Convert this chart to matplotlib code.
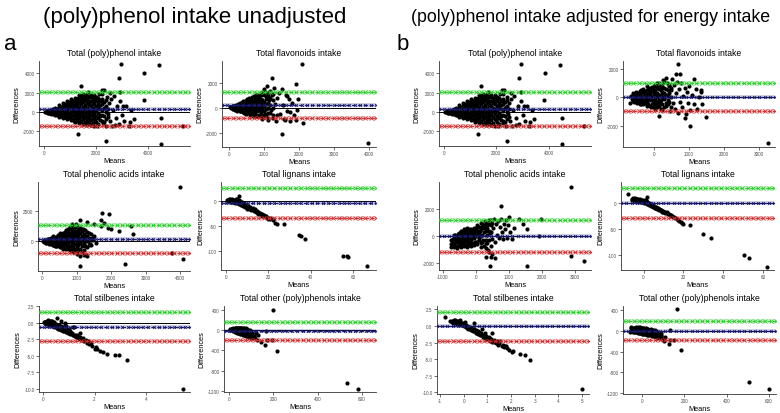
import numpy as np
import matplotlib
matplotlib.use("Agg")
import matplotlib.pyplot as plt

plt.rcParams['font.family'] = ['Liberation Sans', 'DejaVu Sans']
plt.rcParams['axes.unicode_minus'] = False

# ---- data: (mean, difference) pairs ----
# sparse/edge points and outliers
total_pts = [
    [60, 20], [100, -40], [140, 60], [180, -80], [220, 100], [260, -60], [300, 150], [340, -150], [380, 80],
    [420, -220], [460, 250], [500, -100], [540, 300], [580, -300], [620, 120], [660, -250], [700, 400],
    [740, -50], [780, 500], [820, -400], [860, 200], [900, -600], [940, 700], [980, -150], [1020, 900],
    [1060, -700], [1100, 350], [1140, 1100], [1180, -900], [1220, 600], [1260, -300], [1300, 1400],
    [1340, -1000], [1380, 900], [1420, 100], [1460, 1700], [1500, -600], [1540, 1200], [1580, -1200],
    [1620, 400], [1660, 1900], [1700, -900], [1740, 800], [1780, -300], [1820, 1600], [1860, -1300],
    [1900, 1100], [1940, 200], [1980, -800], [2020, 1400], [2060, -1500], [2100, 700], [2140, 1900],
    [2180, -400], [2220, 1100], [2260, -1100], [2300, 2300], [2340, 400], [2380, -1400], [2420, 1600],
    [2460, -200], [2500, 900], [2540, -900], [2580, 1300], [2620, -1500], [2660, 200], [2700, 1700],
    [2760, -600], [2820, 600], [2880, -1200], [2950, 1100], [3020, -300], [3100, -900], [3180, 600],
    [3260, -1400], [3350, 200], [3450, -700],
    [1435, 2725], [2235, 2310], [2550, 1970], [2930, 2100], [2960, 4970], [4420, 4900], [3860, 4040],
    [2880, 3520], [3835, 1240], [3060, 590], [4510, -620], [5350, -1415], [4510, -3310], [2400, -3035],
    [1320, -2310], [3300, -1000], [2750, -1300], [1350, 1800], [1700, 2100],
]
# dense core: mean -> list of differences
total_core = {
    150: [-100, 150], 300: [-250, 0, 250], 450: [-350, -100, 150, 400],
    600: [-500, -200, 100, 400, 700], 750: [-600, -250, 50, 350, 650, 950],
    900: [-700, -350, -50, 250, 550, 850, 1150], 1050: [-850, -450, -100, 250, 600, 950, 1300],
    1200: [-1000, -600, -200, 200, 600, 1000, 1500], 1350: [-1100, -650, -250, 150, 550, 1050, 1500],
    1500: [-1200, -700, -300, 100, 500, 1000, 1450, 1900], 1650: [-1300, -800, -400, 0, 450, 900, 1350, 1750],
    1800: [-1350, -800, -300, 150, 650, 1100, 1750], 1950: [-1400, -700, -200, 300, 800, 1300, 1800],
    2100: [-1200, -600, -100, 400, 1000, 1500], 2250: [-900, -300, 200, 800, 1300, 1900],
    2400: [-700, 0, 600, 1200],
}
total_core2 = {
    225: [-120, 120], 375: [-180, 100, 300], 525: [-300, 0, 280], 675: [-400, -100, 200, 500],
    825: [-500, -150, 200, 500, 800], 975: [-550, -200, 400, 700, 1000],
    1125: [-700, -300, 100, 450, 800, 1150], 1275: [-800, -400, 0, 400, 800, 1250],
    1425: [-900, -450, -50, 350, 800, 1250, 1650], 1575: [-1000, -500, -100, 300, 750, 1200, 1650],
    1725: [-1100, -600, -200, 250, 700, 1150, 1550], 1875: [-1100, -550, 0, 450, 900, 1400],
    2025: [-1000, -400, 100, 600, 1100, 1600], 2175: [-800, -300, 300, 700, 1200],
    2325: [-1000, -400, 400, 1000], 2475: [-500, 300],
}
flav_pts = [
    [30, 30], [60, -50], [90, 80], [120, -100], [150, 150], [180, -150], [210, 100], [240, -250],
    [270, 250], [300, -300], [330, 350], [360, -200], [390, 450], [420, -400], [450, 200], [480, -500],
    [510, 600], [540, -300], [570, 750], [600, -550], [630, 300], [660, 850], [690, -650], [720, 500],
    [750, -200], [780, 1000], [810, -700], [840, 700], [870, 100], [900, 1200], [930, -900], [960, 400],
    [990, 1500], [1020, -500], [1050, 900], [1080, 1700], [1110, -1000], [1140, 600], [1170, 1300],
    [1200, -200], [1230, 1000], [1260, -800], [1290, 1600], [1320, 300], [1350, -1100], [1380, 800],
    [1420, 1200], [1460, -500], [1500, 1500], [1540, 200], [1580, -900], [1620, 1000], [1660, -300],
    [1700, 700], [1750, -1100], [1800, 400], [1850, -600], [1900, -1000],
    [2080, 3470], [1230, 2410], [1910, 1880], [1980, 690], [2120, -1220], [1500, -2090], [3960, -2835],
    [1375, -580], [1590, -1030], [1740, -370], [1650, 950], [1950, -200],
]
flav_core = {
    100: [-100, 100], 200: [-200, 50, 250], 300: [-300, -50, 250, 400], 400: [-350, -100, 200, 500],
    500: [-450, -150, 150, 450, 700], 600: [-500, -200, 100, 400, 700],
    700: [-600, -250, 50, 350, 650, 900], 800: [-650, -300, 0, 350, 700, 1000],
    900: [-750, -350, 0, 350, 700, 1050], 1000: [-750, -300, 100, 450, 1000, 1300],
    1100: [-800, -400, 0, 400, 900, 1200], 1250: [-600, 0, 600, 1100],
}
flav_core2 = {
    150: [-50, 150], 250: [-150, 100, 300], 350: [-250, 0, 300], 450: [-300, 0, 300, 550],
    550: [-350, -50, 300, 600], 650: [-450, -100, 200, 550, 800], 750: [-500, -150, 200, 500, 850],
    850: [-550, -150, 200, 550, 900], 950: [-600, -150, 250, 600, 1100],
    1050: [-550, -100, 300, 700, 1150], 1175: [-400, 200, 800],
}
acids_pts = [
    [30, 30], [60, -60], [90, 100], [120, -120], [150, 150], [180, -150], [210, 200], [240, -200],
    [270, 250], [300, -300], [330, 150], [360, -350], [390, 300], [420, -400], [450, 400], [480, -250],
    [510, 500], [540, -450], [570, 600], [600, -200], [630, 700], [660, -500], [690, 800], [720, 100],
    [750, 1000], [780, -600], [810, 1200], [840, 300], [870, 1300], [900, -700], [930, 1100], [960, 500],
    [990, 1400], [1020, -800], [1050, 1200], [1080, 200], [1110, 1100], [1140, -900], [1170, 1000],
    [1200, -300], [1230, 900], [1260, -1100], [1290, 800], [1320, 0], [1350, 700], [1380, -200],
    [1410, 600], [1440, 300], [1470, 100], [1500, 400], [1550, -100],
    [900, -900], [1000, -1000], [1100, -1200], [1200, -1150], [1290, -1170], [850, 1400],
    [1100, 1700], [1300, 1550], [1500, 1400], [1700, 1250], [1900, 1100], [2000, 1000],
    [4000, 4400], [1740, 2290], [1930, 2200], [2230, 870], [2575, 1225], [2640, 600], [3775, -950],
    [4075, -1440], [2400, -1850], [1095, -2040], [1700, 1700], [1800, 1500],
]
acids_core = {
    100: [-100, 100], 200: [-200, 0, 200], 300: [-300, -50, 200, 400], 400: [-400, -150, 100, 350],
    500: [-500, -200, 100, 400, 650], 600: [-600, -250, 50, 350, 650],
    700: [-650, -300, 0, 300, 600, 950], 800: [-700, -350, 0, 350, 700, 1100],
    900: [-800, -400, -50, 300, 650, 1000], 1000: [-500, -100, 300, 700, 1200],
    1100: [-600, -150, 250, 700, 1000], 1200: [-700, -200, 200, 600], 1300: [-500, 0, 400],
    1400: [-300, 100],
}
acids_core2 = {
    150: [-50, 150], 250: [-150, 100, 300], 350: [-200, 50, 300], 450: [-300, 0, 250, 500],
    550: [-350, -50, 250, 550], 650: [-450, -100, 200, 500, 800], 750: [-500, -150, 150, 500, 850],
    850: [-550, -200, 150, 500, 900], 950: [-600, -250, 150, 500, 850],
    1050: [-700, -300, 100, 500, 900], 1150: [-400, 0, 450, 850], 1250: [-400, 0, 400],
    1350: [-300, 300],
}
lign_pts = [
    [0.5, 0.5], [1, 1], [1.5, -0.5], [2, 2], [2.5, 1], [3, 0], [3.5, 2], [4, -1], [4.5, 1], [5, -2],
    [5.5, 0], [6, -3], [6.5, -1], [7, -5], [7.5, -3], [8, -7], [8.5, -5], [9, -9], [9.5, -8], [10, -12],
    [10.5, -10], [11, -14], [11.5, -13], [12, -16], [12.5, -15], [13, -18], [13.5, -17], [14, -20],
    [14.5, -21], [15, -22], [16, -24], [16.5, -26], [17, -27], [18, -29], [19, -32], [20, -34],
    [21, -36], [22, -38], [23.2, -44], [24, -46], [27.5, -46], [34.5, -67], [35.3, -69], [37.3, -75],
    [55.1, -109], [57, -110], [57.6, -112], [66.8, -130], [6.3, 8.6],
    [1, -1], [2, -2], [3, -3], [4, -4], [5, -5], [6, -6], [7, -8], [8, -10], [9, -12], [3, 1], [2, 0],
    [4, 2], [5, 1], [6, -2], [10, -16], [12, -19], [15, -26], [17, -30], [19, -33],
    [1, 2], [1.5, 0], [2.5, -1], [3.5, -2], [4.5, -3], [5.5, -4], [6.5, -6], [7.5, -9], [8.5, -11],
    [9.5, -13], [10.5, -14], [11, -17], [12, -17], [13, -20], [14, -22], [15, -24], [16, -27], [17, -28],
    [18, -31], [19, -30], [20, -36], [21, -34], [22, -36], [2, 3], [3, 2], [4, 0], [5, -1], [6, -4],
    [7, -6], [8, -8], [9, -10], [0.8, -1], [1.2, 3], [3, 4], [4.5, 3], [5, 3], [6, 1],
]
stil_pts = [
    [0.02, 0.05], [0.05, 0.0], [0.08, -0.1], [0.1, 0.1], [0.12, -0.15], [0.15, 0.0], [0.18, -0.2],
    [0.2, 0.2], [0.22, -0.3], [0.25, -0.1], [0.28, -0.35], [0.3, -0.2], [0.33, -0.45], [0.35, 0.1],
    [0.38, -0.5], [0.4, -0.3], [0.43, -0.6], [0.45, -0.4], [0.48, -0.7], [0.5, -0.5], [0.53, -0.8],
    [0.55, -0.6], [0.58, -0.9], [0.6, -0.7], [0.63, -1.0], [0.65, -0.8], [0.7, -1.1], [0.72, -0.9],
    [0.75, -1.2], [0.8, -1.0], [0.82, -1.3], [0.85, -0.3], [0.88, -1.4], [0.9, -0.5], [0.95, -1.6],
    [1.0, -1.3], [1.05, -1.7], [1.1, -1.5], [1.15, -1.9], [1.2, -0.7], [1.25, -2.0], [1.3, -1.8],
    [1.35, -2.2], [1.43, -1.5], [1.45, -2.4], [1.5, -2.6], [1.55, -2.3], [1.6, -2.8], [1.65, -2.6],
    [1.7, -3.0], [1.75, -2.8], [1.8, -3.2], [1.85, -3.0], [1.9, -3.5], [2.0, -4.0], [2.05, -3.6],
    [2.1, -3.9], [2.2, -4.25], [2.35, -4.5], [2.5, -4.75], [2.8, -4.9], [2.97, -4.9], [3.28, -5.65],
    [5.45, -10.0], [0.55, 0.75], [0.7, 0.2], [0.85, -0.1], [1.15, -0.6],
    [0.1, -0.05], [0.2, -0.1], [0.3, 0.05], [0.4, -0.15], [0.5, -0.25], [0.6, -0.4], [0.7, -0.55],
    [0.9, -1.0], [1.0, -0.9], [0.3, 0.3], [0.15, 0.25], [0.25, 0.3], [0.4, 0.15],
    [0.07, 0.15], [0.12, 0.05], [0.17, -0.1], [0.23, -0.2], [0.27, 0.0], [0.32, -0.3], [0.37, -0.4],
    [0.42, -0.45], [0.47, -0.55], [0.52, -0.65], [0.57, -0.75], [0.62, -0.85], [0.67, -0.95],
    [0.72, -1.05], [0.77, -1.15], [0.82, -1.15], [0.87, -1.3], [0.92, -1.35], [0.97, -1.45],
    [1.02, -1.55], [1.07, -1.6], [1.12, -1.7], [1.17, -1.8], [1.22, -1.9], [1.27, -2.1], [1.32, -2.05],
    [1.37, -2.3], [1.42, -2.2], [1.47, -2.5], [1.52, -2.45], [0.45, -0.15], [0.55, -0.3], [0.65, -0.5],
    [0.75, -0.7], [0.95, -1.1], [1.05, -1.2], [0.2, 0.35], [0.35, 0.25], [0.05, 0.15],
]
other_pts = [
    [2, 5], [8, 10], [12, 20], [18, 15], [22, 25], [28, 10], [32, 30], [42, 35], [52, 30], [62, 20],
    [110, -110], [115, -150], [120, -60], [124, -196], [131, -91], [142, -242], [162, -294], [166, -13],
    [169, -202], [192, -196], [200, 400], [217, -405], [535, -1040], [584, -1155],
]
other_core = {
    5: [0, 20], 15: [-20, 10, 35], 25: [-35, -10, 20, 40], 35: [-50, -25, 0, 25, 45],
    45: [-65, -40, -15, 10, 35], 55: [-85, -55, -30, 0, 25, 45], 65: [-100, -70, -40, -10, 20, 40],
    75: [-115, -85, -55, -25, 5, 30], 85: [-130, -95, -65, -35, 0], 95: [-140, -105, -75, -45, -10],
    105: [-150, -115, -80, -50],
}
other_core2 = {
    10: [-10, 15], 20: [-25, 0, 25], 30: [-40, -15, 10, 35], 40: [-55, -30, -5, 20, 40],
    50: [-75, -50, -20, 5, 30], 60: [-90, -60, -25, 5, 30], 70: [-105, -75, -45, -15, 15],
    80: [-120, -90, -50, -20, 10], 90: [-135, -100, -60, -25], 100: [-145, -110, -70, -35],
}
flav_adj_pts = [
    [-650, 100], [-620, -150], [-590, 200], [-560, -300], [-530, 50], [-500, 300], [-470, -400],
    [-440, 150], [-410, -200], [-380, 400], [-350, -500], [-320, 0], [-290, 500], [-260, -300],
    [-230, 200], [-200, -600], [-170, 600], [-140, -100], [-110, 300], [-80, -700], [-50, 700],
    [-20, -200], [10, 400], [40, -800], [70, 900], [100, 100], [130, -500], [160, 1000], [190, -300],
    [220, 700], [250, -900], [280, 1200], [310, 200], [340, -600], [370, 1000], [400, -200], [430, 800],
    [460, -1000], [490, 500], [520, 1300], [550, -400], [580, 900], [610, -800], [640, 300], [670, 1100],
    [700, -1100], [730, 600], [760, -300], [790, 1000], [820, -700], [850, 100], [880, 700], [910, -1200],
    [940, 400], [970, -400], [1000, 800], [1050, -900], [1100, 200], [1150, -500], [1200, 600],
    [1250, -800], [1300, 0], [1350, 400],
    [684, 2350], [646, 1645], [760, 1645], [1140, 1340], [360, 1410], [1360, 517], [1390, -470],
    [1500, -1410], [1026, -2000], [3260, -3240], [140, -1340], [880, -1480], [-685, -400],
]
flav_adj_core = {
    -600: [-250, 50, 300], -500: [-350, -100, 150, 400], -400: [-450, -150, 150, 450],
    -300: [-500, -250, 50, 300, 600], -200: [-500, -250, 0, 250, 550, 800],
    -100: [-600, -200, 100, 400, 700], 0: [-700, -400, -100, 200, 500, 800],
    100: [-700, -350, 0, 300, 700, 1000], 200: [-800, -200, 150, 500, 900],
    300: [-700, -100, 300, 700, 1100], 400: [-500, 100, 500], 500: [-700, 0, 700],
}
flav_adj_core2 = {
    -550: [-100, 200], -450: [-250, 0, 300], -350: [-350, -50, 300, 500],
    -250: [-400, -100, 200, 450], -150: [-450, -100, 200, 550], -50: [-500, -200, 100, 450, 750],
    50: [-550, -200, 100, 500, 850], 150: [-600, -200, 200, 600, 900], 250: [-500, 0, 400, 800],
    350: [-400, 200, 600], 450: [-300, 300, 900],
}
acids_adj_pts = [
    [-750, -800], [-720, -500], [-690, -200], [-660, -700], [-630, 100], [-600, -400], [-570, -900],
    [-540, 0], [-510, -300], [-480, 200], [-450, -600], [-420, 300], [-390, -100], [-360, -500],
    [-330, 400], [-300, -200], [-270, 100], [-240, -400], [-210, 500], [-180, -100], [-150, -700],
    [-120, 300], [-90, 0], [-60, 600], [-30, -400], [0, 200], [30, -600], [60, 700], [90, -100],
    [120, 400], [150, -800], [180, 900], [210, -300], [240, 600], [270, 1100], [300, -500], [330, 800],
    [360, -1000], [390, 1200], [420, 200], [450, -700], [480, 1000], [510, -200], [540, 600], [570, 1300],
    [600, -400], [630, 900], [660, 100], [690, 1100], [720, -100], [750, 700], [780, 1300], [810, 300],
    [840, -200], [870, 900], [900, 500], [930, 1200], [960, -100], [990, 800], [1020, 1400], [1050, 300],
    [1100, -200], [1150, 600], [300, -900], [400, -1200], [450, -1500], [500, -1300],
    [2907, 3630], [780, 2200], [1995, 1235], [1560, 545], [1925, 0], [1440, 890], [2907, -1480],
    [3280, -1850], [1570, -2220], [425, -2170], [324, -1555], [600, -1600], [1300, 1300],
]
acids_adj_core = {
    -750: [-600, -300], -650: [-800, -500, -150, 100], -550: [-750, -400, -150, 150],
    -450: [-800, -450, -200, 100, 400], -350: [-700, -350, -100, 200, 500],
    -250: [-800, -300, 0, 300, 600], -150: [-500, -250, 100, 500], -50: [-650, -100, 200, 400],
    50: [-400, 100, 400, 800], 150: [-500, 0, 500, 1000], 250: [-700, 300, 800],
    350: [-500, 100, 600, 1000], 450: [300, 800, 1200],
}
acids_adj_core2 = {
    -700: [-650, -200], -600: [-700, -300, 0], -500: [-650, -300, 0, 250], -400: [-600, -250, 50, 350],
    -300: [-550, -250, 50, 350], -200: [-650, -100, 200, 450], -100: [-500, -100, 250, 450],
    0: [-400, 0, 350, 600], 100: [-300, 250, 650], 200: [-400, 100, 700], 300: [-300, 350, 900],
    400: [-300, 400, 900],
}
lign_adj_pts = [
    [-7.8, 17.4], [-5.3, 7.7], [1.7, 11], [-6, 8], [-5, 6], [-4.5, 9], [-4, 7], [-3.5, 5], [-3, 8],
    [-2.5, 4], [-2, 6], [-1.5, 3], [-1, 5], [-0.5, 2], [0, 4], [0.5, 1], [1, 3], [1.5, -1], [2, 1],
    [2.5, -2], [3, -1], [3.5, -4], [4, -3], [4.5, -6], [5, -5], [5.5, -8], [6, -7], [6.5, -10], [7, -9],
    [7.5, -12], [8, -11], [8.5, -14], [9, -13], [9.5, -15], [10, -16], [11, -17], [11.7, -18], [12, -20],
    [13, -22], [14, -24], [15, -27], [16.7, -31], [18.8, -37], [20, -40.5], [23.3, -42], [30, -60],
    [33.8, -68], [50.5, -100], [53, -105], [62, -122],
    [-4, 3], [-3, 4], [-2, 2], [-1, 1], [0, 0], [1, -1], [2, -3], [3, -4], [0, 6], [-2, 7], [1, 5],
    [4, -6], [6, -9], [8, -13], [10, -17],
    [-6, 6], [-5.5, 9], [-5, 8], [-4.5, 6], [-4, 5], [-3.5, 7], [-3, 6], [-2.5, 6], [-2, 4], [-1.5, 5],
    [-1, 3], [-0.5, 4], [0, 2], [0.5, 3], [1, 1], [1.5, 2], [2, -1], [2.5, 0], [3, -3], [3.5, -2],
    [4, -5], [4.5, -4], [5, -7], [5.5, -6], [6, -9], [6.5, -8], [7, -11], [7.5, -10], [8, -12], [9, -14],
    [9.5, -17], [10.5, -18], [11, -19], [12.5, -21], [13.5, -23], [14.5, -25], [15.5, -28], [16, -29],
    [17.5, -33], [18, -35], [19.5, -38],
]
stil_adj_pts = [
    [-0.8, 1.35], [-0.56, 0.75], [-0.42, 0.9], [-0.5, 0.6], [-0.45, 0.5], [-0.4, 0.7], [-0.35, 0.4],
    [-0.3, 0.8], [-0.25, 0.5], [-0.2, 0.3], [-0.15, 0.6], [-0.1, 0.2], [-0.05, 0.4], [0.0, 0.0],
    [0.05, 0.2], [0.1, -0.2], [0.15, 0.0], [0.2, -0.4], [0.25, -0.2], [0.3, -0.6], [0.35, -0.3],
    [0.42, 0.5], [0.4, -0.8], [0.45, -0.5], [0.5, -1.0], [0.55, -0.7], [0.6, -1.2], [0.65, -0.9],
    [0.7, -1.4], [0.77, -0.5], [0.75, -1.1], [0.8, -1.6], [0.85, -1.3], [0.92, -1.0], [0.9, -1.8],
    [0.95, -1.5], [1.0, -2.0], [1.05, -1.7], [1.1, -2.2], [1.2, -1.0], [1.15, -1.9], [1.2, -2.4],
    [1.3, -2.1], [1.35, -2.6], [1.4, -2.3], [1.45, -2.8], [1.55, -2.25], [1.6, -3.0], [1.7, -3.2],
    [1.75, -3.0], [1.83, -3.25], [1.9, -3.6], [2.04, -4.0], [2.1, -3.8], [2.37, -4.25], [2.58, -4.4],
    [2.82, -5.1], [5.0, -9.5],
    [-0.3, 0.3], [-0.2, 0.6], [-0.1, 0.5], [0, 0.3], [0.1, 0.1], [0.2, -0.1], [0.3, -0.3], [0.4, -0.4],
    [0.5, -0.6], [0.6, -0.8], [-0.35, 0.9], [-0.15, 0.9], [0.05, 0.6],
    [-0.5, 0.8], [-0.45, 0.8], [-0.4, 0.55], [-0.35, 0.65], [-0.3, 0.5], [-0.25, 0.7], [-0.2, 0.45],
    [-0.15, 0.35], [-0.1, 0.35], [-0.05, 0.1], [0.0, 0.2], [0.05, -0.05], [0.1, 0.0], [0.15, -0.25],
    [0.2, -0.2], [0.25, -0.45], [0.3, -0.4], [0.35, -0.6], [0.4, -0.55], [0.45, -0.75], [0.5, -0.8],
    [0.55, -1.0], [0.6, -1.0], [0.65, -1.2], [0.7, -1.15], [0.75, -1.35], [0.8, -1.3], [0.85, -1.55],
    [0.9, -1.5], [1.0, -1.75], [1.1, -1.95], [1.25, -2.2], [1.3, -2.35], [1.5, -2.5], [1.65, -2.85],
    [1.8, -3.0],
]
other_adj_pts = [
    [-55, -26], [-52, 71], [100, -150], [102, -200], [126, -264], [131, -174], [153, -174], [131, 6],
    [165, 413], [184, -374], [504, -993], [598, -1122], [110, -120],
]
other_adj_core = {
    -50: [-10, 45], -40: [-30, 0, 25, 55], -30: [-20, 10, 35, 65], -20: [-40, -10, 15, 40, 70],
    -10: [-50, -20, 10, 45, 65], 0: [-55, -25, 0, 30, 60], 10: [-60, -30, -5, 25, 55],
    20: [-70, -40, -10, 15, 45], 30: [-80, -50, -20, 5, 35], 40: [-90, -55, -25, 0, 25],
    50: [-100, -65, -30, -5, 20], 60: [-110, -75, -40, -15, 10], 70: [-120, -85, -55, -25],
    80: [-135, -95, -65, -35], 90: [-145, -110, -75, -45],
}
other_adj_core2 = {
    -45: [-15, 20, 50], -35: [-25, 15, 45], -25: [-30, 0, 30, 60], -15: [-45, -15, 25, 55],
    -5: [-50, -10, 20, 50], 5: [-55, -15, 15, 45], 15: [-65, -25, 5, 35], 25: [-75, -35, -5, 25],
    35: [-85, -40, -10, 15], 45: [-95, -60, -20, 10], 55: [-105, -70, -35, 0],
    65: [-115, -80, -45, -10], 75: [-125, -90, -55], 85: [-140, -100, -60],
}

# bias, upper and lower limits of agreement
limits_a = [[276, 2035, -1480], [185, 1220, -850], [190, 1330, -950],
            [-5.3, 24.4, -35], [-0.6, 1.65, -2.75], [-13, 163, -190]]
limits_b = [[276, 2035, -1480], [0, 1010, -990], [0, 1210, -1135],
            [0, 28.3, -29], [0, 2.15, -2.2], [0, 180, -174]]

titles = ["Total (poly)phenol intake", "Total flavonoids intake", "Total phenolic acids intake",
          "Total lignans intake", "Total stilbenes intake", "Total other (poly)phenols intake"]
data_a = [(total_pts, [total_core, total_core2]), (flav_pts, [flav_core, flav_core2]),
          (acids_pts, [acids_core, acids_core2]), (lign_pts, []), (stil_pts, []),
          (other_pts, [other_core, other_core2])]
data_b = [(total_pts, [total_core, total_core2]), (flav_adj_pts, [flav_adj_core, flav_adj_core2]),
          (acids_adj_pts, [acids_adj_core, acids_adj_core2]), (lign_adj_pts, []), (stil_adj_pts, []),
          (other_adj_pts, [other_adj_core, other_adj_core2])]

# layout: pixel box (left, top, right, bottom), xlim, ylim, xticks, yticks
layout_a = [
    ((39, 62, 190, 147), (-180, 5620), (-3520, 5280), [0, 2000, 4000], [-2000, 0, 2000, 4000]),
    ((222, 62, 376, 148), (-200, 4200), (-3153, 3736), [0, 1000, 2000, 3000, 4000], [-2000, 0, 2000]),
    ((38, 183, 190, 272), (-126, 4290), (-2420, 4840), [0, 1000, 2000, 3000, 4000], [0, 2500]),
    ((221, 183, 376, 271), (-2.4, 70.9), (-137, 37), [0, 20, 40, 60], [-100, -50, 0]),
    ((39, 307, 190, 393), (-0.17, 5.73), (-10.45, 2.45), [0, 2, 4], [-10, -7.5, -5, -2.5, 0, 2.5]),
    ((224, 307, 376, 393), (-24, 664), (-1215, 470), [0, 200, 400, 600], [-1200, -800, -400, 0, 400]),
]
layout_b = [
    ((439, 62, 591, 147), (-180, 5620), (-3520, 5280), [0, 2000, 4000], [-2000, 0, 2000, 4000]),
    ((623, 62, 775, 148), (-874, 3460), (-3525, 2585), [0, 1000, 2000, 3000], [-2000, 0, 2000]),
    ((439, 183, 591, 271), (-1114, 3500), (-2495, 4000), [-1000, 0, 1000, 2000, 3000], [-2000, 0, 2000]),
    ((621, 183, 774, 271), (-11.3, 65.5), (-128.6, 40), [0, 20, 40, 60], [-100, -50, 0]),
    ((437, 307, 589, 395), (-1.13, 5.3), (-10.25, 3.0), [-1, 0, 1, 2, 3, 4, 5], [-10, -7.5, -5, -2.5, 0, 2.5]),
    ((623, 307, 776, 395), (-90, 633), (-1219, 477), [0, 200, 400, 600], [-1200, -800, -400, 0, 400]),
]

W, H = 780, 414
fig = plt.figure(figsize=(W / 100, H / 100), dpi=100)
fig.patch.set_facecolor("white")


def loa_line(ax, y, color, xlim, lw=0.7, ms=2.6):
    xs = np.linspace(xlim[0], xlim[1], 30)
    ax.plot(xlim, [y, y], color=color, lw=2.6, alpha=0.25, zorder=3, solid_capstyle="butt")
    ax.plot(xs, np.full_like(xs, y), color=color, lw=lw, ls="--", marker="x",
            ms=ms, mew=0.6, zorder=4)


def draw_panel(title, data, lims, lay):
    (l, t, r, b), xlim, ylim, xt, yt = lay
    ax = fig.add_axes([l / W, 1 - b / H, (r - l) / W, (b - t) / H])
    edge, cores = data
    pts = list(edge)
    for core in cores:
        pts += [[m, d] for m, ds in core.items() for d in ds]
    pts = np.array(pts, dtype=float)
    ax.scatter(pts[:, 0], pts[:, 1], s=9, color="black", linewidths=0, zorder=2)
    ax.axhline(0, color="black", lw=0.7, zorder=3)
    loa_line(ax, lims[1], "#2ecc2e", xlim)
    loa_line(ax, lims[2], "#d03030", xlim)
    loa_line(ax, lims[0], "#1a1a70", xlim, lw=0.8, ms=2)
    ax.set_xlim(xlim)
    ax.set_ylim(ylim)
    ax.set_xticks(xt)
    ax.set_yticks(yt)
    if any(isinstance(v, float) for v in yt):
        ax.set_yticklabels(["%.1f" % v for v in yt])
    for s in ["top", "right"]:
        ax.spines[s].set_visible(False)
    for s in ["left", "bottom"]:
        ax.spines[s].set_color("#333333")
        ax.spines[s].set_linewidth(0.6)
    ax.tick_params(length=2, width=0.5, color="#333333", labelsize=3.3,
                   labelcolor="#4d4d4d", pad=1.2)
    ax.set_title(title, fontsize=6.2, pad=4)
    ax.set_xlabel("Means", fontsize=5.3, labelpad=1)
    ax.set_ylabel("Differences", fontsize=5.3, labelpad=2)
    return ax


for i in range(6):
    draw_panel(titles[i], data_a[i], limits_a[i], layout_a[i])
    draw_panel(titles[i], data_b[i], limits_b[i], layout_b[i])

fig.text(195 / W, 1 - 17 / H, "(poly)phenol intake unadjusted", fontsize=16,
         ha="center", va="center")
fig.text(591 / W, 1 - 17 / H, "(poly)phenol intake adjusted for energy intake", fontsize=12.8,
         ha="center", va="center")
fig.text(4 / W, 1 - 45 / H, "a", fontsize=16, ha="left", va="center")
fig.text(397 / W, 1 - 45 / H, "b", fontsize=16, ha="left", va="center")

fig.savefig("out.png", dpi=100)
